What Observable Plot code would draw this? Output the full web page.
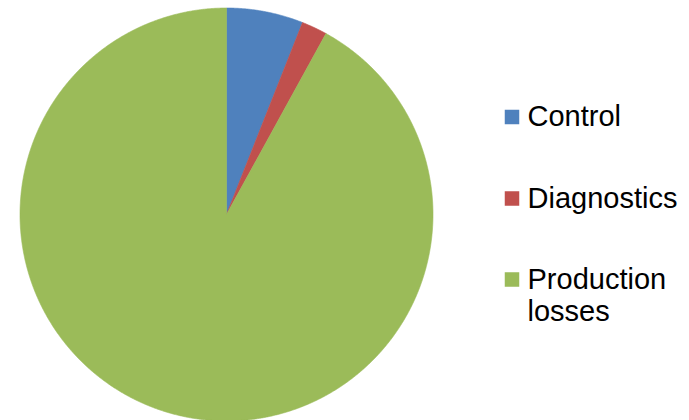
<!DOCTYPE html>
<html>
<head>
<meta charset="utf-8">
<script src="https://cdn.jsdelivr.net/npm/d3@7"></script>
<script src="https://cdn.jsdelivr.net/npm/@observablehq/plot@0.6"></script>
<style>
  html, body { margin: 0; padding: 0; background: #fff; }
  #chart { width: 689px; height: 420px; overflow: hidden; }
</style>
</head>
<body>
<div id="chart"></div>
<script>
const categories = ["Control", "Diagnostics", "Production losses"];
const values = [6.0, 2.0, 92.0];
const legendLabels = ["Control", "Diagnostics", "Production\nlosses"];
const colors = ["#4F81BD", "#C0504D", "#9BBB59"];

const W = 689, H = 420;
const cx = 226, cy = 214, R = 206.5;
const FS = 29;

// Build slice polygons from the data
const total = d3.sum(values);
const pts = [];
let acc = 0;
categories.forEach((c, i) => {
  const a0 = acc / total * 2 * Math.PI;
  acc += values[i];
  const a1 = acc / total * 2 * Math.PI;
  const n = Math.max(2, Math.ceil((a1 - a0) / (Math.PI / 720)));
  pts.push({cat: c, x: cx, y: cy});
  for (let k = 0; k <= n; k++) {
    const a = a0 + (a1 - a0) * k / n;
    pts.push({cat: c, x: cx + R * Math.sin(a), y: cy - R * Math.cos(a)});
  }
  pts.push({cat: c, x: cx, y: cy});
});

// Legend layout
const legendCenters = [117, 198.5, 279.5];
const sq = 14.5;
const legend = categories.map((c, i) => ({
  cat: c,
  label: legendLabels[i],
  x1: 512 - sq / 2, x2: 512 + sq / 2,
  y1: legendCenters[i] - sq / 2, y2: legendCenters[i] + sq / 2,
  tx: 527, ty: legendCenters[i] - 0.535 * FS + 1.5
}));

const chart = Plot.plot({
  width: W, height: H,
  margin: 0,
  x: {domain: [0, W], range: [0, W], axis: null},
  y: {domain: [0, H], range: [0, H], axis: null},
  color: {domain: categories, range: colors},
  style: {background: "#fff"},
  marks: [
    Plot.line(pts, {x: "x", y: "y", z: "cat", fill: "cat", stroke: "cat", strokeWidth: 0.6, curve: "linear"}),
    Plot.rect(legend, {x1: "x1", x2: "x2", y1: "y1", y2: "y2", fill: "cat"}),
    Plot.text(legend, {x: "tx", y: "ty", text: "label", textAnchor: "start", lineAnchor: "top",
      fontSize: FS, lineHeight: 1.117, fill: "#000",
      fontFamily: "'Liberation Sans', Arial, sans-serif"})
  ]
});
document.getElementById("chart").appendChild(chart);
</script>
</body>
</html>
